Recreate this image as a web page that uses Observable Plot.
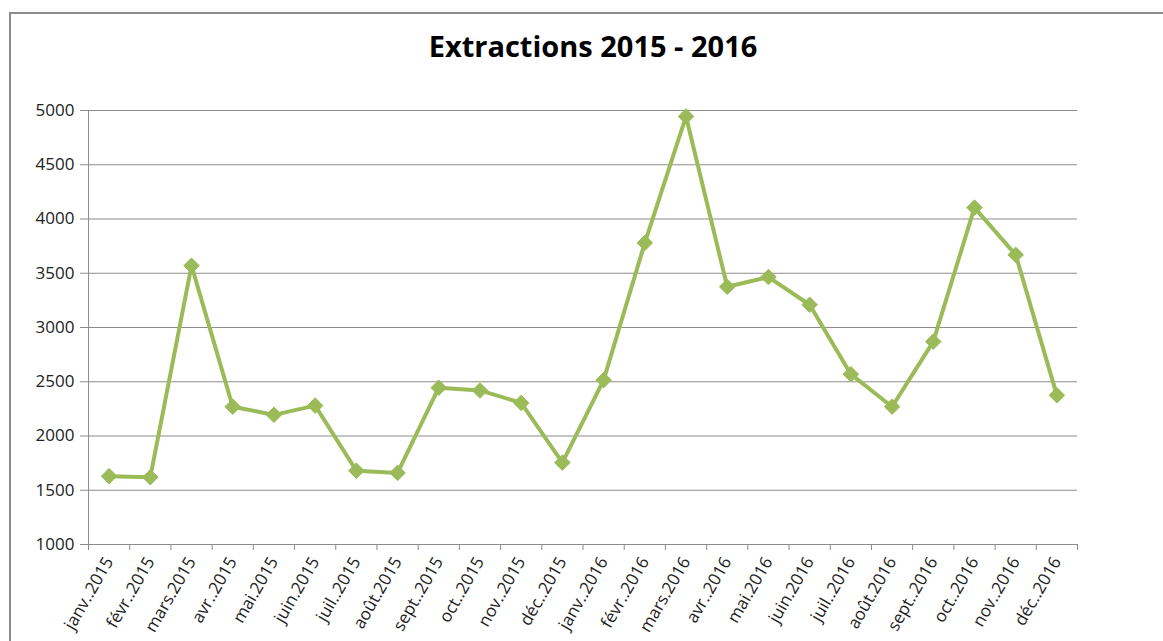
<!DOCTYPE html>
<html>
<head>
<meta charset="utf-8">
<script src="https://cdn.jsdelivr.net/npm/d3@7"></script>
<script src="https://cdn.jsdelivr.net/npm/@observablehq/plot@0.6"></script>
<style>
  html, body { margin: 0; padding: 0; background: #fff; overflow: hidden; width: 1163px; height: 641px; }
  #wrap { position: relative; width: 1163px; height: 641px; }
  #frame { position: absolute; left: 9px; top: 12px; width: 1180px; height: 660px; border: 2px solid #8c8c8c; box-sizing: border-box; }
  #title { position: absolute; left: 0; width: 1186px; top: 26px; text-align: center; font-family: "Open Sans", sans-serif; font-weight: bold; font-size: 29px; color: #000; }
  #chart { position: absolute; left: 0; top: 0; }
</style>
</head>
<body>
<div id="wrap">
  <div id="frame"></div>
  <div id="chart"></div>
  <div id="title">Extractions 2015 - 2016</div>
</div>
<script>
const months = ["janv..2015","févr..2015","mars.2015","avr..2015","mai.2015","juin.2015","juil..2015","août.2015","sept..2015","oct..2015","nov..2015","déc..2015",
                "janv..2016","févr..2016","mars.2016","avr..2016","mai.2016","juin.2016","juil..2016","août.2016","sept..2016","oct..2016","nov..2016","déc..2016"];
const extractions = [1630,1620,3570,2270,2195,2280,1680,1660,2445,2420,2305,1755,
                     2515,3780,4945,3375,3465,3210,2570,2270,2870,4105,3670,2375];
const yTicks = [1000,1500,2000,2500,3000,3500,4000,4500,5000];

const data = months.map((m, i) => ({i, pos: i + 0.5, month: m, value: extractions[i]}));
const boundaries = d3.range(0, months.length + 1);
const centers = data.map(d => d.pos);

const green = "#9bbb59";
const gray = "#8c8c8c";

const chart = Plot.plot({
  width: 1163,
  height: 641,
  marginLeft: 88,
  marginRight: 86,
  marginTop: 110,
  marginBottom: 97,
  style: {fontFamily: "Open Sans, sans-serif", fontSize: "17px", color: "#222", background: "transparent"},
  x: {type: "linear", domain: [0, months.length]},
  y: {domain: [1000, 5000]},
  marks: [
    Plot.gridY(yTicks, {stroke: gray, strokeOpacity: 1, strokeWidth: 1}),
    Plot.axisY(yTicks, {tickSize: 8, tickPadding: 6, stroke: gray, label: null, tickFormat: d => String(d), fontSize: 17, fill: "#222"}),
    Plot.ruleX([0], {stroke: gray, strokeWidth: 1}),
    Plot.ruleY([1000], {stroke: gray, strokeWidth: 1}),
    Plot.axisX(boundaries, {tickSize: 6, tickFormat: () => "", stroke: gray, label: null}),
    Plot.axisX(centers, {tickSize: 0, tickPadding: 14, tickRotate: -60, tickFormat: d => months[Math.floor(d)], label: null, fontSize: 17, fill: "#222"}),
    Plot.line(data, {x: "pos", y: "value", stroke: green, strokeWidth: 4, strokeLinejoin: "round"}),
    Plot.dot(data, {x: "pos", y: "value", symbol: "diamond2", r: 7, fill: green, stroke: green, strokeWidth: 1})
  ]
});
document.getElementById("chart").appendChild(chart);
</script>
</body>
</html>
